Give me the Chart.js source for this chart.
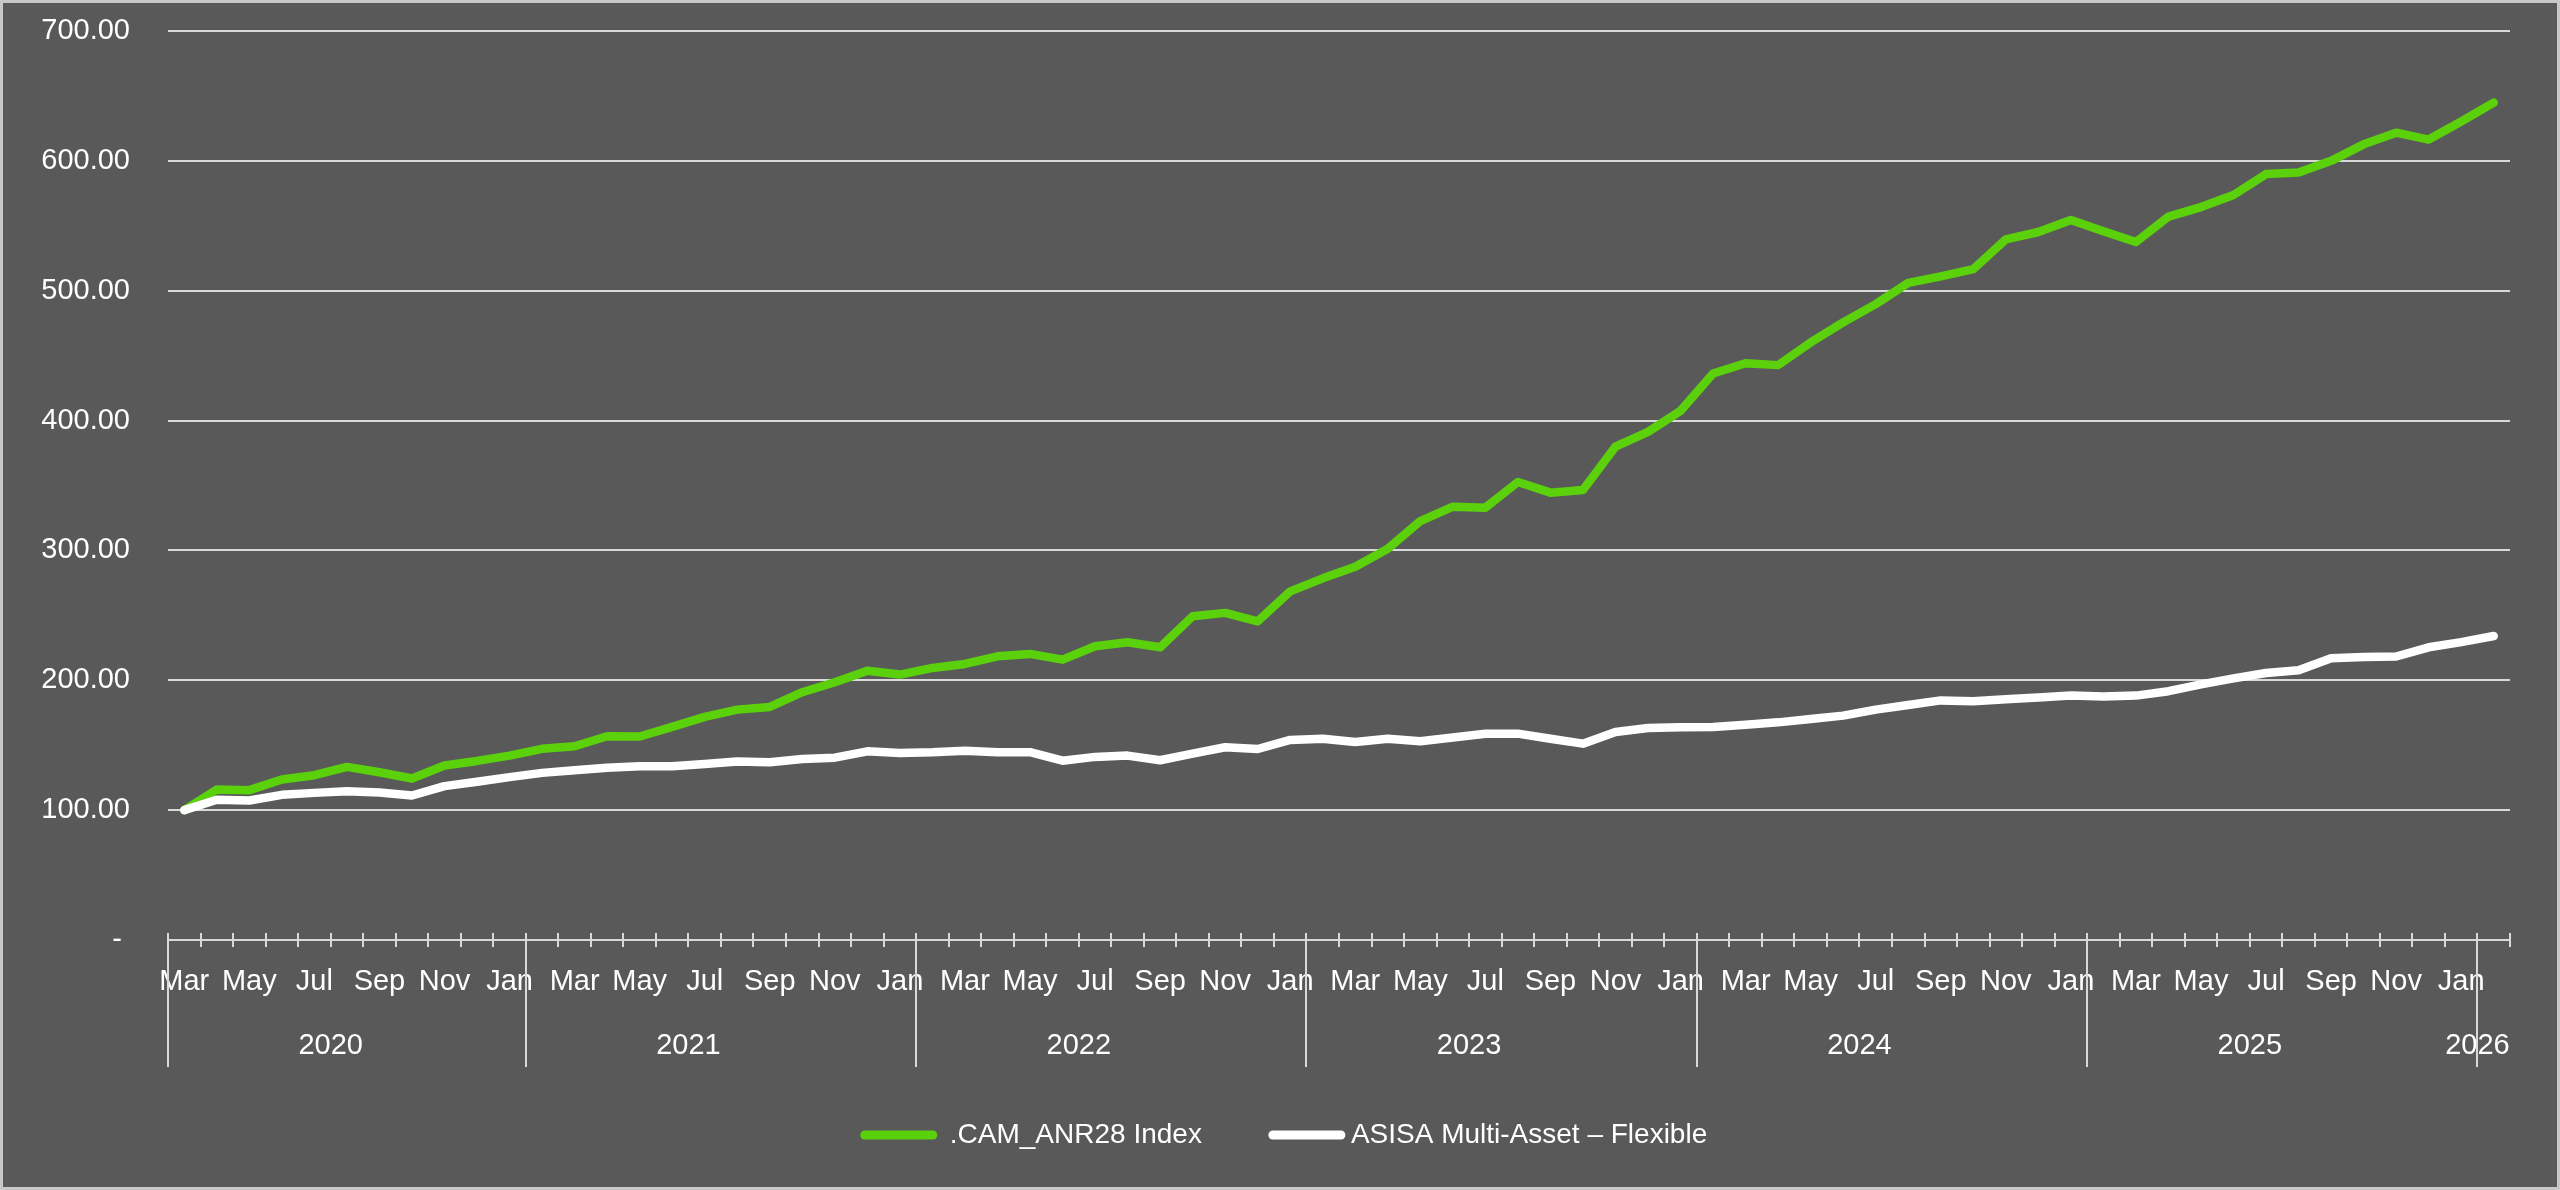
<!DOCTYPE html>
<html>
<head>
<meta charset="utf-8">
<script src="https://cdn.jsdelivr.net/npm/chart.js@4.4.1/dist/chart.umd.min.js"></script>
<style>
html,body{margin:0;padding:0;background:#595959;overflow:hidden}
canvas{display:block}
</style>
</head>
<body>
<canvas id="c" width="2560" height="1190"></canvas>
<script>
// ---- categories (month of each observation) ----
const categories = [
  '2020-03','2020-04','2020-05','2020-06','2020-07','2020-08','2020-09','2020-10','2020-11','2020-12',
  '2021-01','2021-02','2021-03','2021-04','2021-05','2021-06','2021-07','2021-08','2021-09','2021-10','2021-11','2021-12',
  '2022-01','2022-02','2022-03','2022-04','2022-05','2022-06','2022-07','2022-08','2022-09','2022-10','2022-11','2022-12',
  '2023-01','2023-02','2023-03','2023-04','2023-05','2023-06','2023-07','2023-08','2023-09','2023-10','2023-11','2023-12',
  '2024-01','2024-02','2024-03','2024-04','2024-05','2024-06','2024-07','2024-08','2024-09','2024-10','2024-11','2024-12',
  '2025-01','2025-02','2025-03','2025-04','2025-05','2025-06','2025-07','2025-08','2025-09','2025-10','2025-11','2025-12',
  '2026-01','2026-02'
];
const monthAbbr = ['Jan','Feb','Mar','Apr','May','Jun','Jul','Aug','Sep','Oct','Nov','Dec'];
const seriesNames = ['.CAM_ANR28 Index', 'ASISA Multi-Asset \u2013 Flexible'];

// ---- series values ----
const camIndex = [
  100, 115.9, 115.4, 123.6, 126.9, 133.3, 129.2, 124.4, 134.4, 137.9, 142.0, 147.2, 149.2, 156.9, 156.7, 164.1, 171.8, 177.4,
  179.5, 190.8, 198.5, 207.4, 204.4, 209.5, 212.6, 218.5, 220.3, 215.9, 226.2, 229.3, 225.4, 249.3, 251.9, 245.4, 268.5, 278.5,
  287.4, 301.3, 322.6, 333.7, 332.9, 352.7, 344.5, 346.5, 379.9, 391.3, 407.5, 436.2, 444.2, 442.7, 460.2, 475.6, 489.7, 506.0,
  511.1, 516.7, 539.6, 545.2, 554.5, 545.8, 537.5, 557.0, 564.4, 573.7, 589.8, 591.0, 600.0, 612.7, 621.7, 616.4, 630.3, 644.9
];
const asisaFlexible = [
  100, 108.0, 107.4, 111.8, 113.3, 114.6, 113.6, 111.3, 118.5, 121.8, 125.4, 128.7, 130.8, 132.6, 133.8, 133.8, 135.6, 137.4,
  136.9, 139.4, 140.4, 145.3, 144.0, 144.6, 145.8, 144.6, 144.6, 138.1, 141.0, 142.0, 138.4, 143.5, 148.4, 147.1, 154.1, 155.0,
  152.4, 155.0, 153.0, 156.0, 158.9, 158.9, 155.0, 151.2, 160.2, 163.2, 163.8, 164.0, 165.8, 167.6, 170.2, 172.8, 177.4, 181.0,
  184.5, 183.9, 185.4, 186.7, 188.2, 187.6, 188.2, 191.6, 196.9, 201.5, 205.6, 207.7, 217.0, 218.0, 218.3, 225.4, 229.4, 234.1
];

// ---- y tick values ----
const yTicks = [0, 100, 200, 300, 400, 500, 600, 700];

const FONT = "'Liberation Sans', Arial, sans-serif";
const GRID = '#d9d9d9';
const TEXT = '#ffffff';

function yearOf(i){ return categories[i].slice(0,4); }

const axisDecor = {
  id: 'axisDecor',
  beforeDraw(chart){
    const ctx = chart.ctx;
    ctx.save();
    ctx.fillStyle = '#595959';
    ctx.fillRect(0, 0, chart.width, chart.height);
    ctx.restore();
  },
  afterDraw(chart){
    const ctx = chart.ctx;
    const xs = chart.scales.x;
    const area = chart.chartArea;
    const step = xs.getPixelForValue(1) - xs.getPixelForValue(0);
    const edge = i => xs.getPixelForValue(i) - step / 2;
    const y0 = area.bottom;
    ctx.save();
    ctx.strokeStyle = GRID;
    ctx.lineWidth = 2;
    // small tick marks at every category boundary
    ctx.beginPath();
    for (let i = 0; i <= categories.length; i++) {
      const px = Math.round(edge(i));
      ctx.moveTo(px, y0 - 7);
      ctx.lineTo(px, y0 + 7);
    }
    ctx.stroke();
    // year groups
    const groups = [];
    categories.forEach((c, i) => {
      const y = yearOf(i);
      if (!groups.length || groups[groups.length - 1].year !== y) groups.push({year: y, first: i, last: i});
      else groups[groups.length - 1].last = i;
    });
    // long year separator lines
    ctx.beginPath();
    groups.forEach((g, k) => {
      const b = k === 0 ? 0 : g.first + 1;
      const px = Math.round(edge(b));
      ctx.moveTo(px, y0 - 7);
      ctx.lineTo(px, y0 + 127);
    });
    ctx.stroke();
    // year labels
    ctx.fillStyle = TEXT;
    ctx.font = '29px ' + FONT;
    ctx.textAlign = 'center';
    ctx.textBaseline = 'middle';
    groups.forEach(g => {
      const cx = (edge(g.first) + edge(g.last + 1)) / 2;
      ctx.fillText(g.year, cx, y0 + 106);
    });
    // legend
    const ds = chart.data.datasets;
    ctx.font = '28px ' + FONT;
    const w1 = ctx.measureText(ds[0].label).width;
    const w2 = ctx.measureText(ds[1].label).width;
    const sw = 76, g1 = 13, gap = 67, g2 = 6;
    const total = sw + g1 + w1 + gap + sw + g2 + w2;
    let lx = 1284 - total / 2;
    const ly = 1135;
    ctx.lineCap = 'round';
    ctx.lineWidth = 9;
    ctx.textAlign = 'left';
    [[ds[0], w1, g1], [ds[1], w2, g2]].forEach(([d, w, g]) => {
      ctx.strokeStyle = d.borderColor;
      ctx.beginPath();
      ctx.moveTo(lx + 4, ly);
      ctx.lineTo(lx + sw - 4, ly);
      ctx.stroke();
      ctx.fillStyle = TEXT;
      ctx.fillText(d.label, lx + sw + g, ly);
      lx += sw + g + w + gap;
    });
    // outer border
    ctx.lineCap = 'butt';
    ctx.strokeStyle = '#c8c8c8';
    ctx.lineWidth = 3;
    ctx.strokeRect(1.5, 1.5, chart.width - 3, chart.height - 3);
    ctx.restore();
  }
};

new Chart(document.getElementById('c'), {
  type: 'line',
  data: {
    labels: categories,
    datasets: [
      { label: seriesNames[0], data: camIndex, borderColor: '#5BD10C', backgroundColor: '#5BD10C',
        borderWidth: 8.5, pointRadius: 0, tension: 0, borderCapStyle: 'round', borderJoinStyle: 'round', order: 2 },
      { label: seriesNames[1], data: asisaFlexible, borderColor: '#FFFFFF', backgroundColor: '#FFFFFF',
        borderWidth: 8.5, pointRadius: 0, tension: 0, borderCapStyle: 'round', borderJoinStyle: 'round', order: 1 }
    ]
  },
  options: {
    responsive: false,
    devicePixelRatio: 1,
    animation: false,
    layout: { padding: { top: 31, right: 50, bottom: 0, left: 0 } },
    plugins: { legend: { display: false }, tooltip: { enabled: false } },
    scales: {
      x: {
        type: 'category',
        offset: true,
        grid: { display: false, drawTicks: false },
        border: { display: false },
        ticks: {
          autoSkip: false, maxRotation: 0, minRotation: 0, padding: 25,
          color: TEXT, font: { family: FONT, size: 29 },
          callback: (v, i) => i % 2 === 0 ? monthAbbr[parseInt(categories[i].slice(5), 10) - 1] : ''
        },
        afterFit: s => { s.height = 250; s.paddingLeft = 0; s.paddingRight = 0; }
      },
      y: {
        min: yTicks[0], max: yTicks[yTicks.length - 1],
        afterBuildTicks: s => { s.ticks = yTicks.map(v => ({ value: v })); },
        ticks: {
          padding: 38, color: TEXT, font: { family: FONT, size: 29 },
          callback: v => v === 0 ? '- ' : Number(v).toFixed(2)
        },
        grid: { color: GRID, lineWidth: 2, drawTicks: false },
        border: { display: false },
        afterFit: s => { s.width = 168; s.paddingTop = 0; s.paddingBottom = 0; }
      }
    }
  },
  plugins: [axisDecor]
});
</script>
</body>
</html>
